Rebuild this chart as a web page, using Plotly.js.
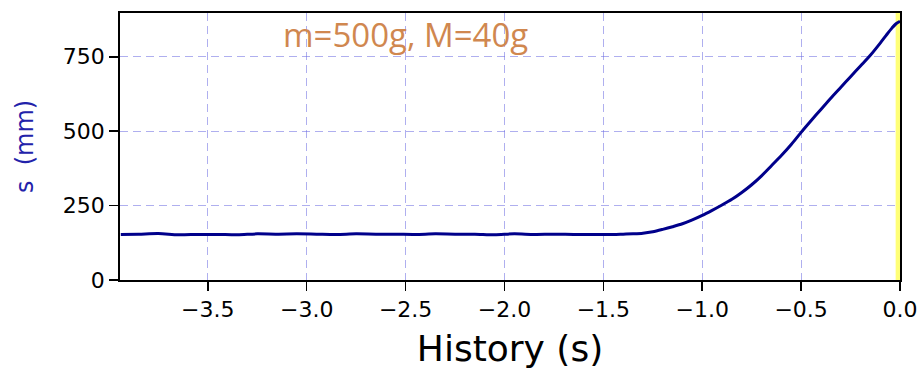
<!DOCTYPE html>
<html><head><meta charset="utf-8">
<script src="https://cdn.plot.ly/plotly-3.0.1.min.js"></script>
<style>html,body{margin:0;padding:0;background:#fff}#chart{width:923px;height:369px}</style>
</head><body><div id="chart"></div>
<script>
const historyTime = [-3.94,-3.85,-3.75,-3.65,-3.55,-3.45,-3.35,-3.25,-3.15,-3.05,-2.95,-2.85,-2.75,-2.65,-2.55,-2.45,-2.35,-2.25,-2.15,-2.05,-1.95,-1.85,-1.75,-1.65,-1.55,-1.45,-1.40,-1.35,-1.30,-1.25,-1.20,-1.15,-1.10,-1.05,-1.00,-0.95,-0.90,-0.85,-0.80,-0.75,-0.70,-0.65,-0.60,-0.55,-0.50,-0.45,-0.40,-0.35,-0.30,-0.25,-0.20,-0.15,-0.10,-0.07,-0.04,-0.02,0.00];
const position = [153,154,156,152,153,153,152,155,154,155,154,153,155,154,154,153,155,154,154,152,155,153,154,153,153,153,154,155,157,162,170,179,189,202,217,234,252,271,294,320,350,384,418,455,496,535,573,611,647,683,719,755,796,822,847,861,869];
const tickVals = [-3.5,-3.0,-2.5,-2.0,-1.5,-1.0,-0.5,0.0];
const tickText = ['\u22123.5','\u22123.0','\u22122.5','\u22122.0','\u22121.5','\u22121.0','\u22120.5','0.0'];
const yTickVals = [0,250,500,750];
const annotationText = 'm=500g, M=40g';

const gridColor = 'rgba(110,110,225,0.55)';
Plotly.newPlot('chart', [{
  x: historyTime, y: position, type: 'scatter', mode: 'lines',
  line: {color: '#00008b', width: 3, shape: 'spline', smoothing: 0.8},
  hoverinfo: 'skip'
}], {
  width: 923, height: 369,
  margin: {l: 120, r: 23, t: 13, b: 89},
  paper_bgcolor: '#fff', plot_bgcolor: '#fff',
  showlegend: false,
  font: {family: 'DejaVu Sans', color: '#000'},
  xaxis: {
    range: [-3.944, 0], tickvals: tickVals, ticktext: tickText,
    ticks: 'outside', ticklen: 9, tickwidth: 1.5, tickcolor: '#000',
    tickfont: {size: 22, family: 'DejaVu Sans', color: '#000'},
    showgrid: true, gridcolor: gridColor, griddash: '8px,5px', gridwidth: 1.2,
    showline: true, linecolor: '#000', linewidth: 1.8, mirror: true,
    zeroline: false,
    title: {text: 'History (s)', font: {size: 36, family: 'DejaVu Sans', color: '#000'}}
  },
  yaxis: {
    range: [0, 897], tickvals: yTickVals,
    ticks: 'outside', ticklen: 9, tickwidth: 1.5, tickcolor: '#000',
    tickfont: {size: 22, family: 'DejaVu Sans', color: '#000'},
    showgrid: true, gridcolor: gridColor, griddash: '8px,5px', gridwidth: 1.2,
    showline: true, linecolor: '#000', linewidth: 1.8, mirror: true,
    zeroline: false,
    title: {text: 's  (mm)', font: {size: 24, family: 'DejaVu Sans', color: '#2222aa'}, standoff: 22}
  },
  shapes: [{
    type: 'rect', xref: 'x', yref: 'paper', x0: -0.022, x1: 0, y0: 0, y1: 1,
    fillcolor: '#ffff55', opacity: 0.8, line: {width: 0}, layer: 'below'
  }],
  annotations: [{
    text: annotationText, xref: 'paper', yref: 'paper',
    x: 0.366, y: 0.92, xanchor: 'center', yanchor: 'middle', showarrow: false,
    font: {size: 33, family: 'Open Sans', color: '#d0874f'}
  }]
}, {displayModeBar: false, staticPlot: true});
</script></body></html>
